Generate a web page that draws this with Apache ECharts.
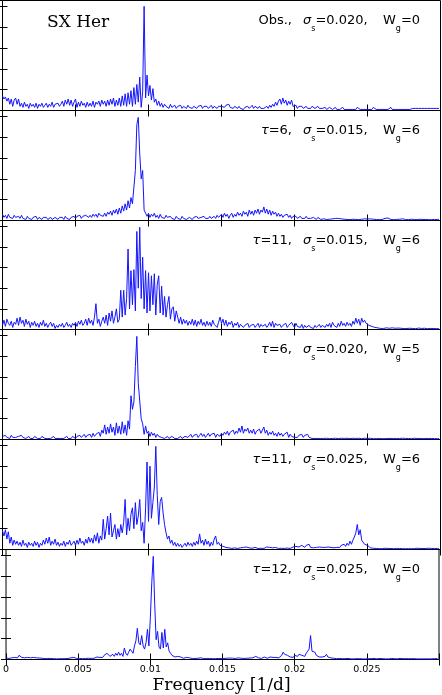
<!DOCTYPE html>
<html>
<head>
<meta charset="utf-8">
<script src="https://cdn.jsdelivr.net/npm/echarts/dist/echarts.min.js"></script>
<style>
  html, body { margin: 0; padding: 0; background: #fff; }
  #power-spectra { width: 442px; height: 695px; }
</style>
</head>
<body>
<div id="power-spectra"></div>
<script>
// frequency grid: 0 .. 0.0299 in steps of 0.0001 [1/d]
const FREQ_START = 0;
const FREQ_STEP = 0.0001;
const freqTicks = [0, 0.005, 0.01, 0.015, 0.02, 0.025];

// power (1 unit = one y tick)
const obsPower = [
  0.7,0.55,0.65,0.45,0.6,0.3,0.55,0.2,0.5,0.6,
  0.3,0.55,0.2,0.35,0.15,0.4,0.2,0.3,0.1,0.35,
  0.2,0.3,0.15,0.35,0.1,0.3,0.2,0.35,0.15,0.25,
  0.35,0.15,0.3,0.2,0.4,0.15,0.3,0.25,0.35,0.2,
  0.3,0.45,0.2,0.5,0.3,0.55,0.25,0.5,0.2,0.4,
  0.55,0.15,0.4,0.2,0.45,0.25,0.35,0.15,0.4,0.2,
  0.35,0.2,0.45,0.15,0.4,0.3,0.45,0.2,0.5,0.3,
  0.45,0.2,0.5,0.25,0.55,0.3,0.6,0.2,0.5,0.25,
  0.6,0.2,0.7,0.25,0.8,0.2,0.85,0.3,0.95,0.2,
  1.1,0.3,1.25,0.4,1.6,0.15,0.9,5.0,0.6,1.7,
  0.7,1.2,0.5,1.05,0.4,0.55,0.25,0.45,0.2,0.35,
  0.15,0.3,0.2,0.25,0.1,0.3,0.15,0.2,0.25,0.1,
  0.2,0.15,0.25,0.1,0.2,0.15,0.1,0.25,0.15,0.2,
  0.1,0.2,0.15,0.1,0.2,0.15,0.25,0.1,0.2,0.15,
  0.2,0.1,0.15,0.25,0.1,0.2,0.15,0.1,0.2,0.15,
  0.2,0.25,0.15,0.25,0.2,0.3,0.15,0.2,0.1,0.2,
  0.15,0.1,0.2,0.1,0.15,0.05,0.15,0.1,0.2,0.1,
  0.15,0.25,0.1,0.2,0.15,0.1,0.2,0.1,0.15,0.1,
  0.15,0.2,0.1,0.25,0.15,0.3,0.2,0.4,0.25,0.45,
  0.55,0.3,0.6,0.35,0.5,0.25,0.45,0.3,0.5,0.2,
  0.15,0.25,0.1,0.2,0.15,0.2,0.1,0.15,0.2,0.1,
  0.15,0.1,0.2,0.15,0.1,0.15,0.2,0.1,0.15,0.1,
  0.1,0.15,0.05,0.1,0.15,0.1,0.05,0.1,0.15,0.05,
  0.1,0.05,0.1,0.15,0.05,0.1,0.05,0.1,0.05,0.1,
  0.05,0.1,0.05,0.15,0.1,0.05,0.1,0.05,0.1,0.05,
  0.1,0.05,0.1,0.05,0.15,0.1,0.05,0.1,0.05,0.1,
  0.05,0.1,0.05,0.1,0.05,0.1,0.15,0.05,0.1,0.05,
  0.1,0.05,0.1,0.05,0.1,0.05,0.1,0.05,0.1,0.05,
  0.05,0.1,0.05,0.1,0.05,0.1,0.05,0.1,0.05,0.1,
  0.05,0.1,0.05,0.1,0.05,0.1,0.05,0.1,0.05,0.1
];

const tau6s015w6 = [
  0.3,0.15,0.25,0.1,0.3,0.15,0.2,0.1,0.25,0.15,
  0.1,0.2,0.1,0.25,0.1,0.15,0.05,0.2,0.1,0.15,
  0.05,0.15,0.1,0.2,0.05,0.15,0.1,0.05,0.15,0.1,
  0.15,0.05,0.1,0.15,0.05,0.1,0.15,0.1,0.05,0.15,
  0.1,0.15,0.05,0.2,0.1,0.15,0.05,0.15,0.1,0.2,
  0.1,0.2,0.15,0.25,0.1,0.2,0.15,0.25,0.2,0.15,
  0.25,0.15,0.3,0.2,0.3,0.15,0.35,0.25,0.3,0.2,
  0.35,0.2,0.4,0.3,0.45,0.25,0.5,0.35,0.55,0.3,
  0.6,0.35,0.7,0.45,0.8,0.5,0.95,0.6,1.1,0.8,
  1.6,2.4,4.6,4.95,3.2,2.0,2.4,0.5,0.35,0.2,
  0.35,0.15,0.3,0.2,0.35,0.15,0.25,0.1,0.3,0.15,
  0.2,0.1,0.25,0.15,0.1,0.2,0.1,0.15,0.05,0.2,
  0.1,0.15,0.05,0.2,0.1,0.15,0.05,0.1,0.15,0.1,
  0.05,0.15,0.1,0.2,0.1,0.05,0.15,0.1,0.2,0.1,
  0.15,0.1,0.2,0.1,0.15,0.2,0.1,0.25,0.15,0.2,
  0.3,0.15,0.35,0.2,0.3,0.1,0.25,0.35,0.15,0.3,
  0.2,0.4,0.25,0.35,0.2,0.45,0.3,0.4,0.2,0.5,
  0.3,0.45,0.25,0.5,0.35,0.55,0.3,0.5,0.4,0.65,
  0.35,0.55,0.3,0.5,0.25,0.45,0.3,0.4,0.2,0.35,
  0.2,0.3,0.15,0.25,0.2,0.3,0.15,0.25,0.1,0.2,
  0.15,0.2,0.1,0.15,0.2,0.1,0.15,0.1,0.2,0.1,
  0.15,0.1,0.05,0.15,0.1,0.05,0.15,0.1,0.05,0.1,
  0.08,0.12,0.05,0.1,0.06,0.12,0.08,0.05,0.1,0.06,
  0.1,0.05,0.08,0.12,0.06,0.1,0.05,0.08,0.04,0.1,
  0.06,0.08,0.05,0.1,0.04,0.08,0.06,0.05,0.08,0.04,
  0.07,0.05,0.08,0.04,0.06,0.08,0.05,0.07,0.04,0.06,
  0.05,0.08,0.1,0.06,0.12,0.08,0.05,0.07,0.04,0.06,
  0.05,0.04,0.06,0.05,0.08,0.04,0.05,0.06,0.04,0.05,
  0.06,0.04,0.05,0.07,0.04,0.05,0.06,0.04,0.05,0.04,
  0.05,0.06,0.04,0.05,0.04,0.06,0.05,0.04,0.05,0.06
];

const tau11s015w6 = [
  0.2,0.45,0.15,0.5,0.3,0.2,0.4,0.1,0.35,0.25,
  0.55,0.2,0.6,0.3,0.45,0.15,0.5,0.25,0.4,0.1,
  0.35,0.2,0.4,0.15,0.3,0.1,0.35,0.2,0.45,0.15,
  0.3,0.1,0.25,0.35,0.15,0.3,0.05,0.2,0.1,0.25,
  0.15,0.3,0.1,0.2,0.35,0.15,0.25,0.1,0.3,0.2,
  0.35,0.15,0.4,0.25,0.45,0.2,0.3,0.5,0.2,0.55,
  0.3,0.45,0.2,0.6,1.25,0.3,0.5,0.15,0.4,0.6,
  0.3,0.7,0.2,0.8,0.4,0.9,0.3,0.6,1.0,0.35,
  0.5,1.9,0.6,1.9,0.7,1.5,3.9,1.0,2.85,1.2,
  2.9,0.9,4.75,2.0,4.95,1.5,3.5,1.0,2.85,0.8,
  2.75,0.9,2.6,1.2,2.7,0.7,2.2,2.6,0.8,2.1,
  0.7,1.6,0.6,1.2,1.6,0.5,1.0,1.1,0.4,0.9,
  0.6,0.3,0.6,0.25,0.5,0.3,0.45,0.2,0.4,0.25,
  0.5,0.2,0.45,0.15,0.4,0.25,0.5,0.2,0.35,0.15,
  0.4,0.2,0.35,0.15,0.45,0.25,0.3,0.1,0.35,0.6,
  0.3,0.5,0.2,0.45,0.15,0.35,0.25,0.4,0.1,0.3,
  0.2,0.35,0.1,0.25,0.3,0.1,0.2,0.15,0.3,0.1,
  0.2,0.15,0.25,0.1,0.2,0.3,0.1,0.25,0.15,0.1,
  0.25,0.1,0.2,0.35,0.15,0.4,0.1,0.3,0.2,0.15,
  0.25,0.1,0.2,0.15,0.3,0.1,0.2,0.15,0.35,0.2,
  0.1,0.3,0.15,0.2,0.1,0.25,0.05,0.2,0.1,0.15,
  0.2,0.1,0.15,0.05,0.2,0.1,0.15,0.25,0.1,0.2,
  0.15,0.1,0.25,0.15,0.3,0.1,0.35,0.2,0.25,0.1,
  0.3,0.15,0.4,0.2,0.3,0.15,0.35,0.2,0.3,0.15,
  0.4,0.25,0.55,0.3,0.5,0.2,0.55,0.35,0.45,0.3,
  0.35,0.2,0.25,0.15,0.2,0.1,0.15,0.08,0.1,0.05,
  0.08,0.05,0.06,0.08,0.04,0.06,0.05,0.08,0.04,0.06,
  0.05,0.07,0.04,0.06,0.05,0.04,0.07,0.05,0.04,0.06,
  0.04,0.05,0.06,0.04,0.05,0.07,0.04,0.05,0.04,0.06,
  0.05,0.04,0.06,0.05,0.04,0.05,0.06,0.04,0.05,0.04
];

const tau6s020w5 = [
  0.15,0.1,0.2,0.1,0.15,0.05,0.2,0.1,0.15,0.1,
  0.05,0.15,0.1,0.2,0.1,0.15,0.05,0.1,0.15,0.05,
  0.1,0.05,0.15,0.1,0.05,0.1,0.05,0.15,0.1,0.05,
  0.1,0.05,0.1,0.05,0.1,0.15,0.05,0.1,0.05,0.1,
  0.05,0.1,0.05,0.1,0.15,0.05,0.1,0.05,0.15,0.1,
  0.05,0.15,0.1,0.2,0.1,0.15,0.25,0.1,0.2,0.15,
  0.25,0.1,0.3,0.15,0.25,0.2,0.35,0.15,0.45,0.3,
  0.7,0.25,0.6,0.3,0.75,0.35,0.6,0.2,0.8,0.3,
  0.65,0.25,0.85,0.3,0.7,0.2,0.9,0.5,2.1,1.45,
  1.8,3.5,4.95,2.7,2.65,1.0,0.75,0.25,0.65,0.3,
  0.4,0.15,0.35,0.2,0.3,0.1,0.25,0.15,0.2,0.1,
  0.15,0.05,0.1,0.15,0.05,0.1,0.15,0.1,0.05,0.1,
  0.05,0.1,0.15,0.05,0.1,0.15,0.2,0.1,0.15,0.25,
  0.1,0.2,0.15,0.25,0.1,0.2,0.3,0.15,0.25,0.1,
  0.2,0.3,0.15,0.25,0.2,0.3,0.1,0.25,0.2,0.15,
  0.3,0.2,0.35,0.25,0.4,0.2,0.35,0.3,0.45,0.25,
  0.4,0.3,0.55,0.35,0.65,0.3,0.5,0.4,0.55,0.3,
  0.45,0.3,0.5,0.25,0.4,0.35,0.5,0.3,0.45,0.6,
  0.3,0.45,0.2,0.35,0.25,0.4,0.2,0.3,0.15,0.35,
  0.2,0.3,0.15,0.25,0.2,0.35,0.1,0.25,0.15,0.2,
  0.1,0.15,0.1,0.2,0.15,0.25,0.1,0.2,0.15,0.25,
  0.1,0.15,0.05,0.1,0.05,0.1,0.05,0.08,0.05,0.08,
  0.05,0.04,0.06,0.05,0.04,0.06,0.05,0.04,0.06,0.05,
  0.04,0.05,0.06,0.04,0.05,0.04,0.06,0.05,0.04,0.05,
  0.06,0.04,0.05,0.04,0.06,0.05,0.04,0.05,0.06,0.04,
  0.05,0.04,0.06,0.05,0.04,0.05,0.04,0.06,0.05,0.04,
  0.04,0.05,0.04,0.06,0.05,0.04,0.05,0.04,0.05,0.06,
  0.05,0.04,0.05,0.04,0.06,0.04,0.05,0.04,0.05,0.04,
  0.04,0.05,0.06,0.04,0.05,0.04,0.05,0.06,0.04,0.05,
  0.05,0.04,0.05,0.04,0.05,0.06,0.04,0.05,0.04,0.05
];

const tau11s025w6 = [
  0.9,0.65,0.95,0.5,0.85,0.3,0.6,0.2,0.45,0.25,
  0.4,0.2,0.35,0.15,0.45,0.2,0.3,0.1,0.35,0.2,
  0.3,0.15,0.4,0.2,0.35,0.1,0.3,0.2,0.45,0.25,
  0.55,0.3,0.6,0.2,0.4,0.25,0.5,0.2,0.35,0.15,
  0.3,0.2,0.4,0.15,0.35,0.25,0.45,0.2,0.3,0.4,
  0.2,0.45,0.25,0.55,0.3,0.4,0.2,0.5,0.3,0.6,
  0.35,0.55,0.3,0.7,0.4,0.8,0.3,0.65,0.45,1.45,
  0.5,1.0,1.6,0.7,1.75,0.6,0.9,1.2,0.5,1.0,
  0.6,1.2,0.8,1.3,2.4,0.7,1.5,0.9,1.7,2.0,
  1.0,2.25,1.2,1.6,2.4,0.9,1.3,0.3,2.0,4.2,
  1.35,4.0,1.5,2.25,3.0,4.95,2.6,1.2,2.3,2.5,
  1.75,1.2,0.8,0.5,0.65,0.3,0.45,0.2,0.35,0.15,
  0.3,0.15,0.25,0.1,0.2,0.3,0.15,0.35,0.2,0.3,
  0.15,0.35,0.2,0.4,0.25,0.75,0.3,0.45,0.2,0.5,
  0.25,0.4,0.15,0.35,0.2,0.5,0.65,0.25,0.35,0.2,
  0.25,0.15,0.2,0.1,0.15,0.08,0.12,0.05,0.1,0.08,
  0.1,0.05,0.12,0.08,0.05,0.1,0.06,0.12,0.05,0.08,
  0.1,0.06,0.05,0.1,0.08,0.05,0.12,0.06,0.1,0.05,
  0.08,0.12,0.05,0.1,0.06,0.08,0.05,0.1,0.07,0.05,
  0.1,0.06,0.08,0.05,0.12,0.07,0.1,0.05,0.08,0.12,
  0.1,0.15,0.08,0.12,0.1,0.2,0.25,0.1,0.2,0.15,
  0.25,0.1,0.15,0.08,0.12,0.1,0.06,0.12,0.08,0.1,
  0.06,0.1,0.08,0.12,0.06,0.1,0.15,0.08,0.12,0.1,
  0.15,0.1,0.2,0.12,0.25,0.15,0.3,0.2,0.4,0.25,
  0.45,0.6,0.8,1.2,0.7,0.95,0.45,0.5,0.25,0.3,
  0.2,0.12,0.08,0.05,0.06,0.04,0.05,0.06,0.04,0.05,
  0.04,0.05,0.06,0.04,0.05,0.04,0.05,0.06,0.04,0.05,
  0.05,0.04,0.05,0.06,0.04,0.05,0.04,0.05,0.04,0.06,
  0.04,0.05,0.04,0.05,0.06,0.04,0.05,0.04,0.05,0.04,
  0.05,0.04,0.06,0.04,0.05,0.04,0.05,0.04,0.05,0.04
];

const tau12s025w0 = [
  0.08,0.12,0.05,0.1,0.08,0.15,0.1,0.12,0.08,0.2,
  0.25,0.1,0.15,0.08,0.12,0.1,0.15,0.08,0.05,0.1,
  0.06,0.08,0.05,0.07,0.04,0.06,0.05,0.04,0.06,0.05,
  0.04,0.05,0.06,0.04,0.05,0.03,0.05,0.04,0.06,0.04,
  0.05,0.04,0.06,0.05,0.04,0.08,0.05,0.1,0.06,0.05,
  0.08,0.05,0.06,0.04,0.08,0.05,0.07,0.06,0.08,0.05,
  0.1,0.06,0.08,0.12,0.05,0.1,0.15,0.1,0.2,0.15,
  0.3,0.35,0.15,0.2,0.25,0.15,0.3,0.2,0.35,0.2,
  0.3,0.15,0.55,0.3,0.2,0.35,0.5,0.4,0.3,0.65,
  0.9,1.5,0.8,0.7,1.15,0.65,0.5,0.8,1.45,0.65,
  2.0,3.7,4.95,2.7,0.95,1.35,0.6,0.5,1.3,0.55,
  1.45,0.6,0.8,0.4,0.3,0.2,0.15,0.12,0.1,0.15,
  0.08,0.12,0.1,0.06,0.08,0.1,0.05,0.08,0.06,0.05,
  0.06,0.05,0.04,0.06,0.05,0.08,0.05,0.04,0.06,0.05,
  0.04,0.05,0.06,0.04,0.05,0.04,0.06,0.05,0.04,0.05,
  0.06,0.05,0.08,0.06,0.05,0.07,0.05,0.06,0.08,0.05,
  0.06,0.08,0.05,0.06,0.07,0.05,0.08,0.06,0.05,0.07,
  0.06,0.08,0.1,0.15,0.12,0.08,0.06,0.05,0.08,0.12,
  0.1,0.06,0.08,0.12,0.06,0.1,0.15,0.1,0.12,0.08,
  0.15,0.2,0.35,0.25,0.3,0.2,0.15,0.12,0.18,0.1,
  0.2,0.25,0.15,0.25,0.3,0.2,0.25,0.15,0.3,0.4,
  0.5,1.15,0.4,0.45,0.35,0.2,0.15,0.12,0.1,0.12,
  0.1,0.15,0.25,0.12,0.1,0.08,0.1,0.06,0.05,0.04,
  0.04,0.05,0.03,0.04,0.05,0.04,0.03,0.05,0.04,0.03,
  0.04,0.03,0.05,0.04,0.03,0.04,0.05,0.03,0.04,0.03,
  0.05,0.04,0.03,0.04,0.03,0.05,0.04,0.03,0.04,0.05,
  0.03,0.04,0.05,0.03,0.04,0.03,0.04,0.05,0.03,0.04,
  0.04,0.03,0.04,0.05,0.03,0.04,0.03,0.04,0.03,0.04,
  0.03,0.04,0.03,0.04,0.05,0.03,0.04,0.03,0.04,0.03,
  0.04,0.03,0.04,0.03,0.04,0.03,0.05,0.04,0.03,0.04
];

const panelSeries = [obsPower, tau6s015w6, tau11s015w6, tau6s020w5, tau11s025w6, tau12s025w0];
const panelPrefix = ['{t|Obs.,}', '{g|τ}{t|=6,}', '{g|τ}{t|=11,}', '{g|τ}{t|=6,}', '{g|τ}{t|=11,}', '{g|τ}{t|=12,}'];
const panelSigma = ['0.020', '0.015', '0.015', '0.020', '0.025', '0.025'];
const panelWg = ['0', '6', '6', '5', '6', '0'];

const chart = echarts.init(document.getElementById('power-spectra'));

const panelTops = [0.5, 110.5, 220.5, 329.5, 439.5, 549.5];
const plotBottom = 659.5;
const LEFT = 2.5, WIDTH = 438;
const Y_MAX = 5.28;

const rich = {
  t: { fontFamily: 'DejaVu Sans', fontSize: 13, color: '#000' },
  g: { fontFamily: 'DejaVu Sans', fontSize: 13, fontStyle: 'italic', color: '#000' },
  sub: { fontFamily: 'DejaVu Sans', fontSize: 8, color: '#000', verticalAlign: 'bottom' }
};

const grids = [], xAxes = [], yAxes = [], series = [], texts = [];

panelTops.forEach(function (top, i) {
  const bottom = i < 5 ? panelTops[i + 1] : plotBottom;
  grids.push({
    left: LEFT, top: top, width: WIDTH, height: bottom - top,
    show: true, borderColor: '#000', borderWidth: 1, backgroundColor: 'transparent'
  });
  const xBase = {
    gridIndex: i, type: 'value', min: 0, max: 0.03, interval: 0.005,
    axisLine: { show: false },
    axisTick: { inside: true, length: 6, lineStyle: { color: '#000', width: 1 } },
    splitLine: { show: false }
  };
  xAxes.push(Object.assign({}, xBase, {
    position: 'bottom',
    axisLabel: {
      show: i === 5, color: '#000', fontFamily: 'DejaVu Sans', fontSize: 9.5, margin: 5,
      formatter: function (v) {
        const hit = freqTicks.find(function (t) { return Math.abs(t - v) < 1e-9; });
        return hit === undefined ? '' : String(hit);
      }
    }
  }));
  xAxes.push(Object.assign({}, xBase, { position: 'top', axisLabel: { show: false } }));
  const yBase = {
    gridIndex: i, type: 'value', min: 0, max: Y_MAX, interval: 1,
    axisLine: { show: false },
    axisTick: { inside: true, length: 5, lineStyle: { color: '#000', width: 1 } },
    axisLabel: { show: false },
    splitLine: { show: false }
  };
  yAxes.push(Object.assign({}, yBase, { position: 'left' }));
  yAxes.push(Object.assign({}, yBase, { position: 'right' }));

  series.push({
    type: 'line',
    xAxisIndex: i * 2,
    yAxisIndex: i * 2,
    showSymbol: false,
    silent: true,
    lineStyle: { color: '#1414ff', width: 1 },
    data: panelSeries[i].map(function (v, k) { return [FREQ_START + k * FREQ_STEP, v]; })
  });

  const ty = top + 20.5;
  texts.push({
    type: 'text', x: 292, y: ty,
    style: { text: panelPrefix[i], rich: rich, align: 'right', verticalAlign: 'middle', textAlign: 'right', textVerticalAlign: 'middle', lineHeight: 24 }
  });
  texts.push({
    type: 'text', x: 303, y: ty,
    style: { text: '{g|σ}{sub|s}{t|=' + panelSigma[i] + ',}', rich: rich, align: 'left', verticalAlign: 'middle', textAlign: 'left', textVerticalAlign: 'middle', lineHeight: 24 }
  });
  texts.push({
    type: 'text', x: 383, y: ty,
    style: { text: '{t|W}{sub|g}{t|=' + panelWg[i] + '}', rich: rich, align: 'left', verticalAlign: 'middle', textAlign: 'left', textVerticalAlign: 'middle', lineHeight: 24 }
  });
});

texts.push({
  type: 'text', x: 47, y: 23,
  style: { text: 'SX Her', fontFamily: 'DejaVu Serif', fontSize: 17, fill: '#000', align: 'left', verticalAlign: 'middle', textAlign: 'left', textVerticalAlign: 'middle' }
});
texts.push({
  type: 'text', x: 221.5, y: 685.5,
  style: { text: 'Frequency [1/d]', fontFamily: 'DejaVu Serif', fontSize: 17, fill: '#000', align: 'center', verticalAlign: 'middle', textAlign: 'center', textVerticalAlign: 'middle' }
});

chart.setOption({
  animation: false,
  backgroundColor: '#fff',
  grid: grids,
  xAxis: xAxes,
  yAxis: yAxes,
  series: series,
  graphic: { elements: texts }
});

window.addEventListener('resize', function () {
  chart.resize();
});
</script>
</body>
</html>
